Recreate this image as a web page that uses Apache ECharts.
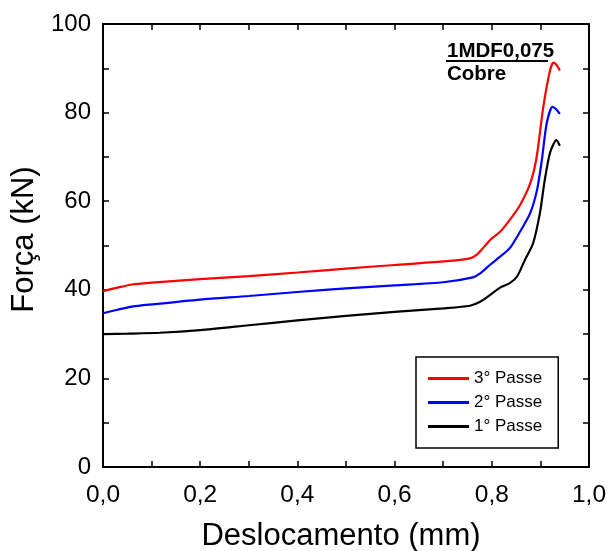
<!DOCTYPE html>
<html>
<head>
<meta charset="utf-8">
<script src="https://cdn.jsdelivr.net/npm/echarts@6/dist/echarts.min.js"></script>
<style>html,body{margin:0;padding:0;background:#fff}#c{width:609px;height:551px}</style>
</head>
<body>
<div id="c"></div>
<script>
var seriesNames = ['3° Passe', '2° Passe', '1° Passe'];
var seriesColors = ['#ff0000', '#0000ff', '#000000'];

var x3 = [0.0, 0.03, 0.06, 0.1, 0.2, 0.3, 0.4, 0.5, 0.6, 0.7, 0.755, 0.77, 0.785, 0.796, 0.817, 0.837, 0.858, 0.879, 0.892, 0.906, 0.92, 0.927, 0.933, 0.94];
var y3 = [39.7, 40.5, 41.2, 41.6, 42.4, 43.1, 43.9, 44.8, 45.6, 46.4, 47.1, 48.0, 49.8, 51.2, 53.1, 55.8, 59.1, 64.0, 69.8, 81.3, 89.6, 91.3, 90.8, 89.5];

var x2 = [0.0, 0.03, 0.06, 0.1, 0.2, 0.3, 0.4, 0.5, 0.6, 0.7, 0.761, 0.776, 0.796, 0.817, 0.837, 0.858, 0.879, 0.893, 0.903, 0.913, 0.925, 0.932, 0.94];
var y2 = [34.7, 35.5, 36.2, 36.7, 37.8, 38.6, 39.5, 40.3, 41.0, 41.7, 42.8, 43.7, 45.6, 47.5, 49.4, 53.1, 57.3, 62.5, 69.3, 77.6, 81.3, 80.8, 79.7];

var x1 = [0.0, 0.05, 0.117, 0.2, 0.3, 0.4, 0.5, 0.6, 0.7, 0.755, 0.776, 0.796, 0.817, 0.837, 0.852, 0.868, 0.885, 0.899, 0.909, 0.92, 0.933, 0.94];
var y1 = [30.0, 30.1, 30.3, 30.9, 32.0, 33.1, 34.1, 35.0, 35.8, 36.4, 37.3, 38.8, 40.5, 41.5, 43.0, 46.7, 50.5, 57.3, 64.8, 71.0, 73.8, 72.5];

var xTickLabels = ['0,0', '0,2', '0,4', '0,6', '0,8', '1,0'];
var yTickLabels = ['0', '20', '40', '60', '80', '100'];
var annotTop = '1MDF0,075';
var annotBottom = 'Cobre';

function pairs(xs, ys) { return xs.map(function (v, i) { return [v, ys[i]]; }); }
var allData = [pairs(x3, y3), pairs(x2, y2), pairs(x1, y1)];

var font = 'Liberation Sans, Arial, sans-serif';
var axisLine = { show: true, onZero: false, lineStyle: { color: '#000', width: 2 } };
var tick = { show: true, inside: true, length: 6, lineStyle: { color: '#000', width: 1.5 } };
var minorTick = { show: true, splitNumber: 2, length: 6, lineStyle: { color: '#000', width: 1.5 } };

var series = allData.map(function (d, i) {
  return {
    name: seriesNames[i], type: 'line', data: d, symbol: 'none', smooth: 0.25,
    lineStyle: { color: seriesColors[i], width: 2.2 },
    itemStyle: { color: seriesColors[i] }
  };
});
series.push({ type: 'line', xAxisIndex: 1, yAxisIndex: 1, data: [], symbol: 'none', silent: true });

var chart = echarts.init(document.getElementById('c'));
chart.setOption({
  animation: false,
  backgroundColor: '#fff',
  grid: { left: 103, right: 20, top: 24, bottom: 84, containLabel: false, outerBoundsMode: 'none' },
  xAxis: [{
    type: 'value', min: 0, max: 1, interval: 0.2,
    position: 'bottom',
    name: 'Deslocamento (mm)', nameLocation: 'middle', nameGap: 54,
    nameTextStyle: { fontFamily: font, fontSize: 31, color: '#000', padding: [0, 10, 0, 0] },
    axisLine: axisLine, axisTick: tick, minorTick: minorTick,
    splitLine: { show: false },
    axisLabel: { fontFamily: font, fontSize: 24.5, color: '#000', margin: 16,
      formatter: function (v) { return xTickLabels[Math.round(v / 0.2)]; } }
  }, {
    type: 'value', min: 0, max: 1, interval: 0.2, position: 'top',
    axisLine: axisLine, axisTick: tick, minorTick: minorTick,
    splitLine: { show: false }, axisLabel: { show: false }
  }],
  yAxis: [{
    type: 'value', min: 0, max: 100, interval: 20,
    position: 'left',
    name: 'Força (kN)', nameLocation: 'middle', nameGap: 56,
    nameTextStyle: { fontFamily: font, fontSize: 31, color: '#000', padding: [0, 0, 0, 12] },
    axisLine: axisLine, axisTick: tick, minorTick: minorTick,
    splitLine: { show: false },
    axisLabel: { fontFamily: font, fontSize: 24, color: '#000', margin: 12,
      formatter: function (v) { return yTickLabels[Math.round(v / 20)]; } }
  }, {
    type: 'value', min: 0, max: 100, interval: 20, position: 'right',
    axisLine: axisLine, axisTick: tick, minorTick: minorTick,
    splitLine: { show: false }, axisLabel: { show: false }
  }],
  legend: {
    orient: 'vertical', left: 416, top: 357,
    padding: [13, 16, 13, 12],
    itemGap: 7, itemWidth: 41, itemHeight: 3, icon: 'rect',
    borderColor: '#000', borderWidth: 1.5, borderRadius: 0,
    textStyle: { fontFamily: font, fontSize: 17, color: '#000' },
    data: seriesNames
  },
  graphic: [
    { type: 'text', left: 447, top: 41, style: { text: annotTop, font: 'bold 20.5px ' + font, fill: '#000' } },
    { type: 'line', shape: { x1: 446, y1: 61, x2: 548, y2: 61 }, style: { stroke: '#000', lineWidth: 2 } },
    { type: 'text', left: 447, top: 64, style: { text: annotBottom, font: 'bold 20.5px ' + font, fill: '#000' } }
  ],
  series: series
});
</script>
</body>
</html>
